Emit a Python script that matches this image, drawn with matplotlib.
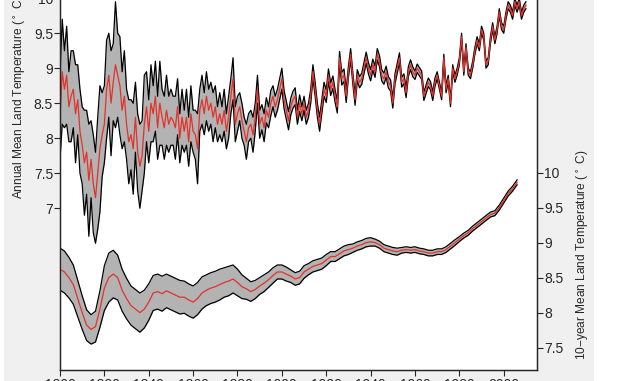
import numpy as np
import matplotlib
matplotlib.use("Agg")
import matplotlib.pyplot as plt
from matplotlib.patches import Rectangle

plt.rcParams['font.family'] = ['Liberation Sans', 'DejaVu Sans']

# annual land temperature (12-month mean), one value per year 1800-2010
annual_years = np.arange(1800, 2011)
annual_mean = [
    8.3, 8.95, 8.7, 8.9, 8.45, 8.6, 8.7, 8.35, 8.55, 8.1,
    7.9, 7.65, 7.8, 7.4, 7.7, 7.35, 7.15, 7.5, 7.85, 8.05,
    8.2, 8.7, 8.9, 8.5, 8.8, 9.05, 8.9, 8.75, 8.4, 8.6,
    8.2, 7.95, 8.05, 7.85, 8.3, 7.8, 7.6, 7.75, 8.2, 8.45,
    8.1, 8.5, 8.35, 8.6, 8.15, 8.5, 8.3, 8.15, 8.4, 8.2,
    8.3, 8.25, 8.15, 8.45, 8.0, 8.3, 8.1, 8.3, 7.95, 8.35,
    8.1, 8.05, 7.85, 8.4, 8.55, 8.35, 8.6, 8.4, 8.5, 8.3,
    8.45, 8.2, 8.35, 8.2, 8.4, 8.1, 8.3, 8.6, 8.85, 8.2,
    8.35, 8.45, 8.25, 8.1, 7.95, 8.15, 8.2, 8.05, 8.3, 8.7,
    8.2, 8.3, 8.15, 8.4, 8.3, 8.5, 8.6, 8.45, 8.55, 8.7,
    8.85, 8.55, 8.4, 8.25, 8.45, 8.55, 8.6, 8.3, 8.5, 8.35,
    8.5, 8.3, 8.4, 8.6, 8.95, 8.7, 8.4, 8.2, 8.45, 8.7,
    8.6, 8.9, 8.7, 8.8, 8.6, 8.45, 9.15, 8.85, 8.9, 8.6,
    8.95, 9.2, 8.85, 8.55, 8.9, 8.8, 8.85, 9.0, 9.15, 9.0,
    8.9, 9.05, 8.95, 9.2, 9.1, 8.9, 8.85, 8.95, 8.8, 8.75,
    8.5, 8.85, 9.0, 9.15, 8.8, 8.85, 8.65, 8.95, 9.05, 8.95,
    8.9, 9.0, 8.95, 8.9, 8.6, 8.7, 8.8, 8.75, 8.6, 8.8,
    8.9, 8.75, 8.6, 9.15, 8.7, 8.85, 8.5, 9.0, 8.85, 8.95,
    9.1, 9.45, 8.95, 9.3, 8.95, 8.9, 9.05, 9.25, 9.4, 9.3,
    9.55, 9.45, 9.05, 9.1, 9.4, 9.6, 9.4, 9.55, 9.8, 9.6,
    9.55, 9.75, 9.9, 9.85, 9.75, 9.95, 9.85, 9.95, 9.75, 9.85,
    9.9,
]
annual_unc = [
    0.6, 0.75, 0.55, 0.7, 0.5, 0.65, 0.55, 0.7, 0.5, 0.6,
    0.55, 0.75, 0.6, 0.8, 0.55, 0.7, 0.65, 0.8, 0.9, 0.6,
    0.55, 0.7, 0.6, 0.75, 0.55, 0.9, 0.6, 0.7, 0.55, 0.65,
    0.5, 0.6, 0.5, 0.65, 0.5, 0.55, 0.6, 0.5, 0.7, 0.5,
    0.45, 0.55, 0.4, 0.5, 0.45, 0.6, 0.4, 0.45, 0.5, 0.4,
    0.4, 0.35, 0.45, 0.4, 0.35, 0.4, 0.3, 0.4, 0.35, 0.4,
    0.3, 0.35, 0.5, 0.3, 0.35, 0.3, 0.35, 0.3, 0.3, 0.35,
    0.3, 0.25, 0.3, 0.25, 0.3, 0.25, 0.3, 0.25, 0.3, 0.25,
    0.25, 0.2, 0.25, 0.2, 0.25, 0.2, 0.2, 0.25, 0.2, 0.2,
    0.2, 0.18, 0.2, 0.18, 0.15, 0.18, 0.15, 0.15, 0.15, 0.15,
    0.15, 0.13, 0.13, 0.13, 0.12, 0.12, 0.12, 0.1, 0.12, 0.1,
    0.1, 0.1, 0.1, 0.1, 0.1, 0.1, 0.1, 0.1, 0.1, 0.1,
    0.09, 0.09, 0.09, 0.09, 0.09, 0.09, 0.09, 0.09, 0.09, 0.09,
    0.08, 0.08, 0.08, 0.08, 0.08, 0.08, 0.08, 0.08, 0.08, 0.08,
    0.08, 0.08, 0.08, 0.08, 0.08, 0.08, 0.08, 0.08, 0.08, 0.08,
    0.07, 0.07, 0.07, 0.07, 0.07, 0.07, 0.07, 0.07, 0.07, 0.07,
    0.06, 0.06, 0.06, 0.06, 0.06, 0.06, 0.06, 0.06, 0.06, 0.06,
    0.05, 0.05, 0.05, 0.05, 0.05, 0.05, 0.05, 0.05, 0.05, 0.05,
    0.05, 0.05, 0.05, 0.05, 0.05, 0.05, 0.05, 0.05, 0.05, 0.05,
    0.05, 0.05, 0.05, 0.05, 0.05, 0.05, 0.05, 0.05, 0.05, 0.05,
    0.05, 0.05, 0.05, 0.05, 0.05, 0.05, 0.05, 0.05, 0.05, 0.05,
    0.05,
]

# 10-year moving average, every 2 years 1800-2006
decadal_years = np.arange(1800, 2007, 2)
decadal_mean = [
    8.62, 8.58, 8.50, 8.40, 8.20, 8.00, 7.82, 7.76, 7.80, 8.05,
    8.35, 8.50, 8.55, 8.50, 8.32, 8.20, 8.10, 8.05, 8.00, 8.05,
    8.15, 8.28, 8.30, 8.27, 8.31, 8.28, 8.25, 8.22, 8.22, 8.18,
    8.15, 8.20, 8.28, 8.32, 8.35, 8.37, 8.40, 8.43, 8.45, 8.48,
    8.43, 8.37, 8.34, 8.30, 8.33, 8.38, 8.42, 8.47, 8.53, 8.58,
    8.58, 8.55, 8.52, 8.48, 8.50, 8.58, 8.62, 8.66, 8.68, 8.70,
    8.75, 8.80, 8.80, 8.84, 8.88, 8.90, 8.92, 8.95, 8.97, 9.00,
    9.01, 9.00, 8.97, 8.92, 8.90, 8.88, 8.87, 8.89, 8.90, 8.89,
    8.90, 8.88, 8.87, 8.85, 8.85, 8.87, 8.87, 8.90, 8.95, 9.00,
    9.05, 9.10, 9.14, 9.20, 9.25, 9.30, 9.35, 9.40, 9.42, 9.50,
    9.60, 9.70, 9.77, 9.86,
]
decadal_unc = [
    0.30, 0.30, 0.29, 0.28, 0.26, 0.24, 0.22, 0.21, 0.22, 0.26,
    0.32, 0.35, 0.34, 0.32, 0.30, 0.29, 0.28, 0.28, 0.28, 0.27,
    0.26, 0.25, 0.25, 0.25, 0.24, 0.24, 0.24, 0.24, 0.23, 0.23,
    0.23, 0.23, 0.23, 0.22, 0.22, 0.22, 0.22, 0.21, 0.21, 0.20,
    0.19, 0.17, 0.15, 0.14, 0.13, 0.12, 0.12, 0.11, 0.11, 0.10,
    0.10, 0.10, 0.09, 0.09, 0.09, 0.09, 0.08, 0.08, 0.08, 0.08,
    0.08, 0.07, 0.07, 0.07, 0.07, 0.07, 0.06, 0.06, 0.06, 0.06,
    0.06, 0.05, 0.05, 0.05, 0.05, 0.05, 0.05, 0.04, 0.04, 0.04,
    0.04, 0.04, 0.04, 0.04, 0.04, 0.04, 0.04, 0.04, 0.04, 0.04,
    0.035, 0.035, 0.035, 0.035, 0.035, 0.035, 0.035, 0.035, 0.035, 0.035,
    0.035, 0.035, 0.035, 0.035,
]

left_ticks = [7, 7.5, 8, 8.5, 9, 9.5, 10]
right_ticks = [7.5, 8, 8.5, 9, 9.5, 10]
year_ticks = np.arange(1800, 2001, 20)

W, H = 626, 381
fig = plt.figure(figsize=(W / 100, H / 100), dpi=100, facecolor="white")
# matlab-style grey figure panel
fig.patches.append(Rectangle((4 / W, 0), 590 / W, 1, transform=fig.transFigure,
                             facecolor="#f0f0f0", edgecolor="none", zorder=-10))

x0, x1 = 60, 537
ytop, ybot = -20, 370
ax = fig.add_axes([x0 / W, (H - ybot) / H, (x1 - x0) / W, (ybot - ytop) / H])
ax.set_facecolor("white")
ax2 = ax.twinx()

band = "#b3b3b3"
red = "#e3312b"

def draw_band(a, x, m, u):
    m = np.array(m)
    u = np.array(u)
    a.fill_between(x, m - u, m + u, color=band, lw=0)
    a.plot(x, m - u, color="black", lw=0.9)
    a.plot(x, m + u, color="black", lw=0.9)
    a.plot(x, m, color=red, lw=0.9)

draw_band(ax, annual_years, annual_mean, annual_unc)
draw_band(ax2, decadal_years, decadal_mean, decadal_unc)

ax.set_xlim(1800, 2015)
ax.set_ylim(4.69, 10.26)
ax2.set_ylim(7.18, 12.75)
ax.set_xticks(year_ticks)
ax.set_yticks(left_ticks)
ax.set_yticklabels([f"{t:g}" for t in left_ticks])
ax2.set_yticks(right_ticks)
ax2.set_yticklabels([f"{t:g}" for t in right_ticks])

for a in (ax, ax2):
    a.tick_params(direction="out", length=4, width=0.8, labelsize=10,
                  colors="#262626", pad=1)
    for s in a.spines.values():
        s.set_linewidth(0.9)
        s.set_color("#262626")
ax.tick_params(axis="x", pad=1.5)

ax.set_ylabel("Annual Mean Land Temperature ($^\\circ$ C)", fontsize=8.6, color="#262626")
ax2.set_ylabel("10\u2212year Mean Land Temperature ($^\\circ$ C)", fontsize=8.6, color="#262626")
ax.yaxis.set_label_coords(-0.068, 0.70)
ax2.yaxis.set_label_coords(1.08, 0.295)

fig.savefig("out.png", dpi=100, facecolor=fig.get_facecolor())
